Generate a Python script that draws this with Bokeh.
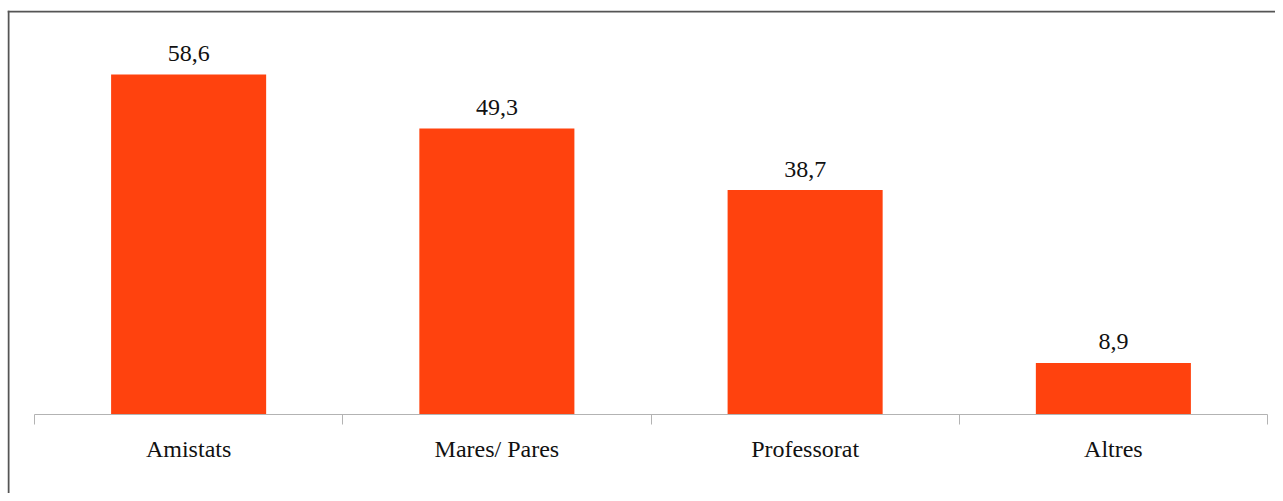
import numpy as np
from bokeh.plotting import figure
from bokeh.models import ColumnDataSource, Range1d, FixedTicker, Span
from bokeh.core.properties import value
from bokeh.embed import file_html
from bokeh.resources import INLINE

categories = ["Amistats", "Mares/ Pares", "Professorat", "Altres"]
values = [58.6, 49.3, 38.7, 8.9]
value_labels = ["58,6", "49,3", "38,7", "8,9"]

n = len(categories)
centers = np.arange(n) + 0.5
bounds = np.arange(n + 1).astype(float)

FONT = "Liberation Serif"
BAR = "#ff420e"
AXIS = "#b3b3b3"
BORDER = "#555555"

# layout (pixels)
W, H = 1275, 493
FL, FT = 7, 10            # frame left / top
AX_L, AX_R, AX_Y = 34, 1267, 414   # axis start, end, baseline (canvas px)
PX_PER_UNIT = 5.8
ppx = (AX_R - AX_L) / n
x0 = -(AX_L - FL) / ppx
x1 = n + (W - AX_R) / ppx
y0 = -(H - AX_Y) / PX_PER_UNIT
y1 = (AX_Y - FT) / PX_PER_UNIT

p = figure(width=W, height=H, output_backend="svg", toolbar_location=None,
           x_range=Range1d(x0, x1), y_range=Range1d(y0, y1),
           min_border_left=FL, min_border_right=0, min_border_top=FT,
           min_border_bottom=0)
p.outline_line_color = None
p.background_fill_color = "white"
p.border_fill_color = "white"
p.xgrid.visible = False
p.ygrid.visible = False
p.yaxis.visible = False

left_edge = Span(location=FL + 1, location_units="canvas", dimension="height",
                 line_color=BORDER, line_width=2)
top_edge = Span(location=FT + 1, location_units="canvas", dimension="width",
                line_color=BORDER, line_width=2)
p.add_layout(left_edge)
p.add_layout(top_edge)

src = ColumnDataSource(dict(x=centers, top=values, lab=value_labels))
p.vbar(x="x", top="top", bottom=0, width=0.503, source=src,
       fill_color=BAR, line_color=None)
p.text(x="x", y="top", text="lab", source=src, y_offset=-21,
       text_align="center", text_baseline="alphabetic",
       text_font=value(FONT), text_font_size="24px", text_color="#111111")

ax = p.xaxis[0]
ax.fixed_location = 0
ax.bounds = (0, n)
ax.ticker = FixedTicker(ticks=list(centers), minor_ticks=list(bounds))
ax.major_label_overrides = {float(c): lab for c, lab in zip(centers, categories)}
ax.axis_line_color = AXIS
ax.axis_line_width = 1
ax.major_tick_line_color = None
ax.major_tick_out = 0
ax.major_tick_in = 0
ax.minor_tick_line_color = AXIS
ax.minor_tick_out = 10
ax.minor_tick_in = 0
ax.major_label_standoff = 11
ax.major_label_text_font = FONT
ax.major_label_text_font_size = "24px"
ax.major_label_text_color = "#111111"

open("out.html", "w").write(file_html(p, INLINE))
